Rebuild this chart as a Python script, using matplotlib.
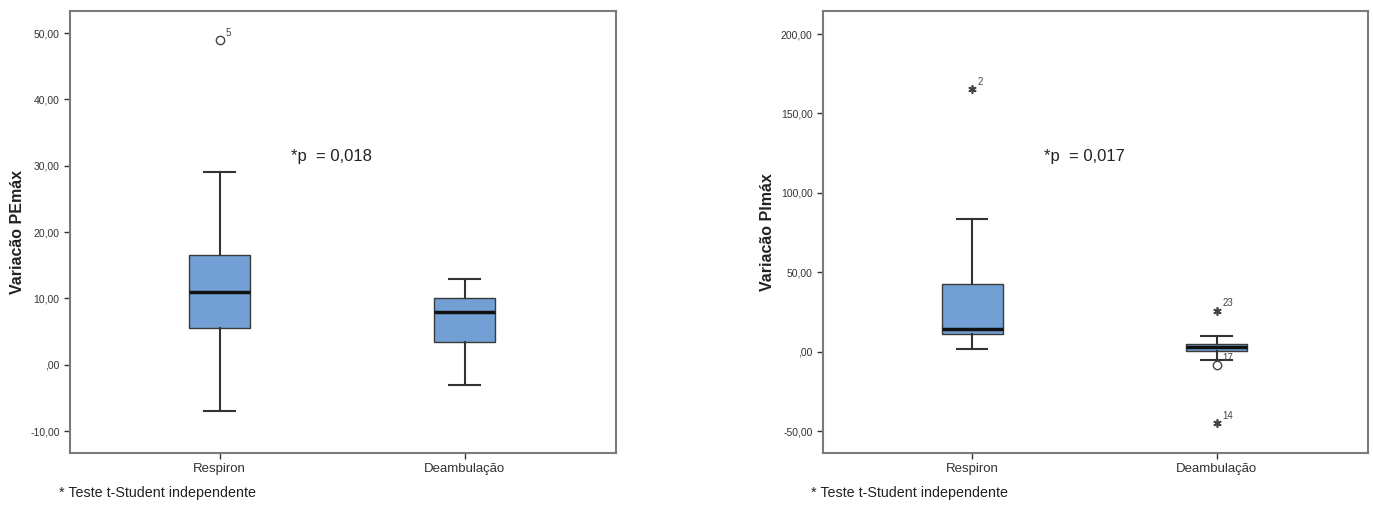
import matplotlib
matplotlib.use("Agg")
import matplotlib.pyplot as plt

plt.rcParams['font.family'] = ['Liberation Sans', 'DejaVu Sans']

### Data
groups = ["Respiron", "Deambulação"]

# Variação PEmáx (left)
pe_whislo = [-7.0, -3.0]
pe_q1 = [5.5, 3.5]
pe_med = [11.0, 8.0]
pe_q3 = [16.5, 10.0]
pe_whishi = [29.0, 13.0]
pe_out_x = [1]
pe_out_y = [49.0]
pe_out_lab = ["5"]
pe_out_mark = ["o"]
pe_ticks = [-10, 0, 10, 20, 30, 40, 50]
pe_ticklabels = ["-10,00", ",00", "10,00", "20,00", "30,00", "40,00", "50,00"]

# Variação PImáx (right)
pi_whislo = [2.0, -5.0]
pi_q1 = [11.3, 0.6]
pi_med = [14.4, 3.0]
pi_q3 = [42.7, 5.0]
pi_whishi = [83.5, 9.6]
pi_out_x = [1, 2, 2, 2]
pi_out_y = [165.6, 25.9, -8.2, -45.0]
pi_out_lab = ["2", "23", "17", "14"]
pi_out_mark = ["*", "*", "o", "*"]
pi_ticks = [-50, 0, 50, 100, 150, 200]
pi_ticklabels = ["-50,00", ",00", "50,00", "100,00", "150,00", "200,00"]

box_color = "#72a0d4"
frame_color = "#7a7a7a"


def draw(ax, whislo, q1, med, q3, whishi, ox, oy, olab, omark,
         ticks, ticklabels, ylim, ylabel, ptext):
    stats = []
    for i in range(len(groups)):
        stats.append(dict(whislo=whislo[i], q1=q1[i], med=med[i], q3=q3[i],
                          whishi=whishi[i], fliers=[], label=groups[i]))
    ax.bxp(stats, positions=[1, 2], widths=0.25, patch_artist=True,
           showfliers=False,
           boxprops=dict(facecolor=box_color, edgecolor="#3a3a3a", linewidth=1.0),
           medianprops=dict(color="#111111", linewidth=2.5),
           whiskerprops=dict(color="#333333", linewidth=1.5),
           capprops=dict(color="#333333", linewidth=1.5),
           capwidths=0.125)

    # outliers: circles and extremes (asterisks)
    for x, y, lab, m in zip(ox, oy, olab, omark):
        if m == "o":
            ax.plot(x, y, marker="o", ms=6, mfc="white", mec="#444444", mew=1.0,
                    linestyle="none", zorder=5)
        else:
            ax.plot(x, y, marker=(6, 2, 0), ms=6, color="#444444", mew=1.2,
                    linestyle="none", zorder=5)
        ax.annotate(lab, (x, y), xytext=(4, 3), textcoords="offset points",
                    fontsize=7, color="#444444")

    ax.set_xlim(0.39, 2.62)
    ax.set_ylim(*ylim)
    ax.set_yticks(ticks)
    ax.set_yticklabels(ticklabels)
    ax.tick_params(axis="y", labelsize=7.5, colors="#333333", length=4,
                   width=1.0, direction="out")
    ax.tick_params(axis="x", labelsize=9.5, colors="#333333", length=4,
                   width=1.0, direction="out")
    for s in ax.spines.values():
        s.set_color(frame_color)
        s.set_linewidth(1.5)
    ax.set_ylabel(ylabel, fontsize=11.5, fontweight="bold", color="#222222", labelpad=4)
    ax.text(0.405, 0.67, ptext, transform=ax.transAxes, fontsize=12,
            color="#222222", va="center")


fig = plt.figure(figsize=(13.73, 5.09), dpi=100)
ax1 = fig.add_axes([0.051, 0.110, 0.398, 0.868])
ax2 = fig.add_axes([0.5994, 0.110, 0.397, 0.868])

draw(ax1, pe_whislo, pe_q1, pe_med, pe_q3, pe_whishi,
     pe_out_x, pe_out_y, pe_out_lab, pe_out_mark,
     pe_ticks, pe_ticklabels, (-13.3, 53.3), "Variacão PEmáx", "*p  = 0,018")
draw(ax2, pi_whislo, pi_q1, pi_med, pi_q3, pi_whishi,
     pi_out_x, pi_out_y, pi_out_lab, pi_out_mark,
     pi_ticks, pi_ticklabels, (-63.8, 214.4), "Variacão PImáx", "*p  = 0,017")

fig.text(0.043, 0.024, "* Teste t-Student independente", fontsize=10.3, color="#222222")
fig.text(0.591, 0.024, "* Teste t-Student independente", fontsize=10.3, color="#222222")

plt.savefig("out.png", dpi=100)
